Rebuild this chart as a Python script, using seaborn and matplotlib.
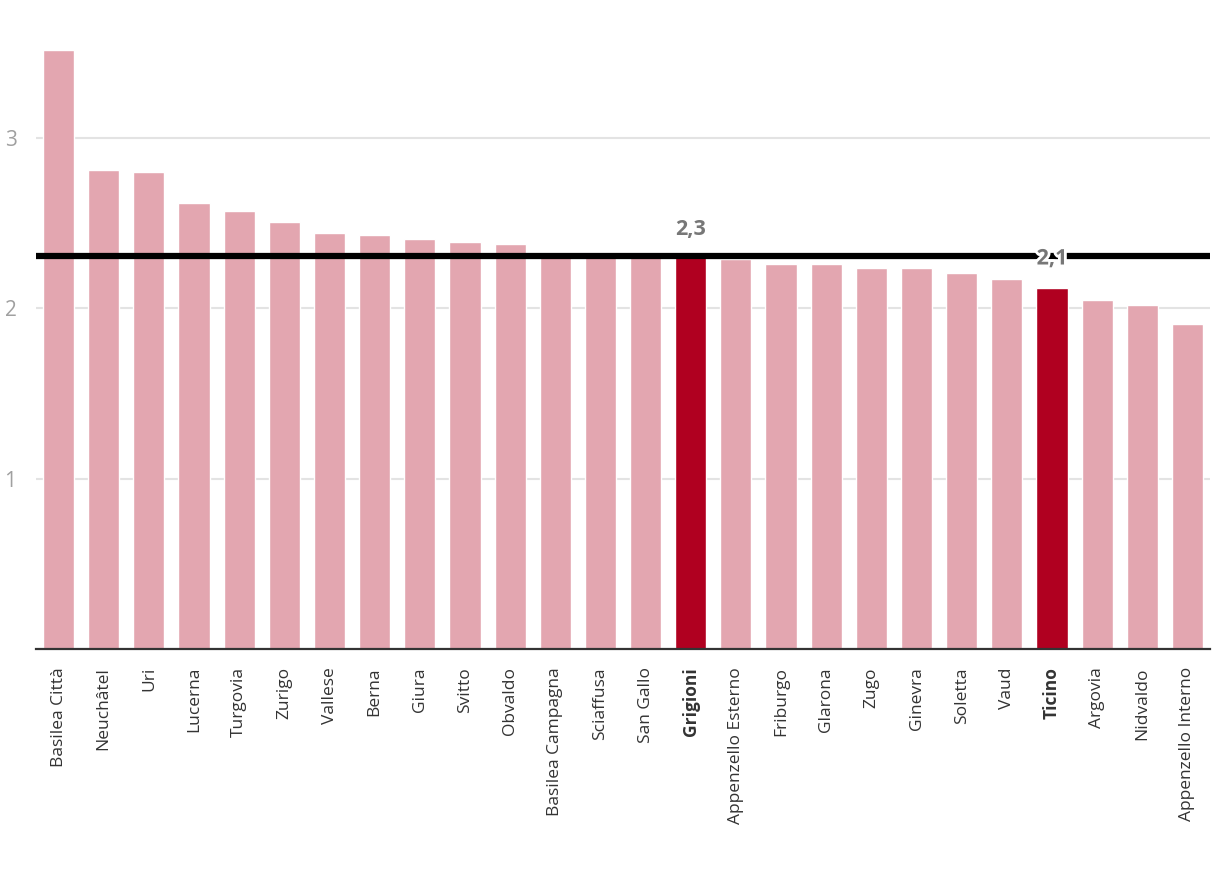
import matplotlib
matplotlib.use("Agg")
import matplotlib.pyplot as plt
import matplotlib.patheffects as pe
import seaborn as sns
import pandas as pd

cantons = ["Basilea Città", "Neuchâtel", "Uri", "Lucerna", "Turgovia", "Zurigo",
           "Vallese", "Berna", "Giura", "Svitto", "Obvaldo", "Basilea Campagna",
           "Sciaffusa", "San Gallo", "Grigioni", "Appenzello Esterno", "Friburgo",
           "Glarona", "Zugo", "Ginevra", "Soletta", "Vaud", "Ticino", "Argovia",
           "Nidvaldo", "Appenzello Interno"]
values = [3.52, 2.81, 2.80, 2.62, 2.57, 2.51, 2.44, 2.43, 2.41, 2.39, 2.38, 2.32,
          2.31, 2.31, 2.30, 2.29, 2.26, 2.26, 2.24, 2.24, 2.21, 2.17, 2.12, 2.05,
          2.02, 1.91]
highlight = ["Grigioni", "Ticino"]
highlight_labels = {"Grigioni": "2,3", "Ticino": "2,1"}
swiss_mean = 2.31
yticks = [1, 2, 3]

sns.set_theme(style="white")
plt.rcParams['font.family'] = ['Open Sans', 'DejaVu Sans']

df = pd.DataFrame({"canton": cantons, "value": values})
palette = {c: ("#b00020" if c in highlight else "#e3a6b0") for c in cantons}

fig = plt.figure(figsize=(12.2, 8.82), dpi=100)
ax = fig.add_axes([36/1220, 1 - 649/882, (1210-36)/1220, (649-30)/882])

sns.barplot(data=df, x="canton", y="value", hue="canton", palette=palette,
            legend=False, width=0.69, ax=ax, saturation=1, zorder=2)

ax.set_xlim(-0.5, len(cantons) - 0.5)
ax.set_ylim(0, (649-30)/170.3)
ax.set_yticks(yticks)
ax.set_yticklabels([str(t) for t in yticks])
for t in yticks:
    ax.axhline(t, color="#e3e3e3", lw=1.5, zorder=1)

ax.axhline(swiss_mean, color="black", lw=4.5, zorder=3)

for s in ["top", "right", "left"]:
    ax.spines[s].set_visible(False)
ax.spines["bottom"].set_color("#333333")
ax.spines["bottom"].set_linewidth(1.6)
ax.spines["bottom"].set_zorder(4)

ax.set_xlabel("")
ax.set_ylabel("")
ax.tick_params(axis="y", length=0, labelsize=15, labelcolor="#a0a0a0", pad=14)
ax.tick_params(axis="x", length=0, labelsize=12.5, labelcolor="#333333", pad=13)
ax.set_xticks(range(len(cantons)))
ax.set_xticklabels(cantons, rotation=90)
for lbl in ax.get_xticklabels():
    if lbl.get_text() in highlight:
        lbl.set_fontweight("bold")

# value labels
i_g = cantons.index("Grigioni")
ax.text(i_g, swiss_mean + 0.155, highlight_labels["Grigioni"], ha="center", va="center",
        fontsize=15.5, fontweight="bold", color="#777777", zorder=5)
i_t = cantons.index("Ticino")
ax.text(i_t, swiss_mean - 0.02, highlight_labels["Ticino"], ha="center", va="center",
        fontsize=15.5, fontweight="bold", color="#777777", zorder=5,
        path_effects=[pe.withStroke(linewidth=4, foreground="white")])

fig.savefig("out.png", dpi=100)
